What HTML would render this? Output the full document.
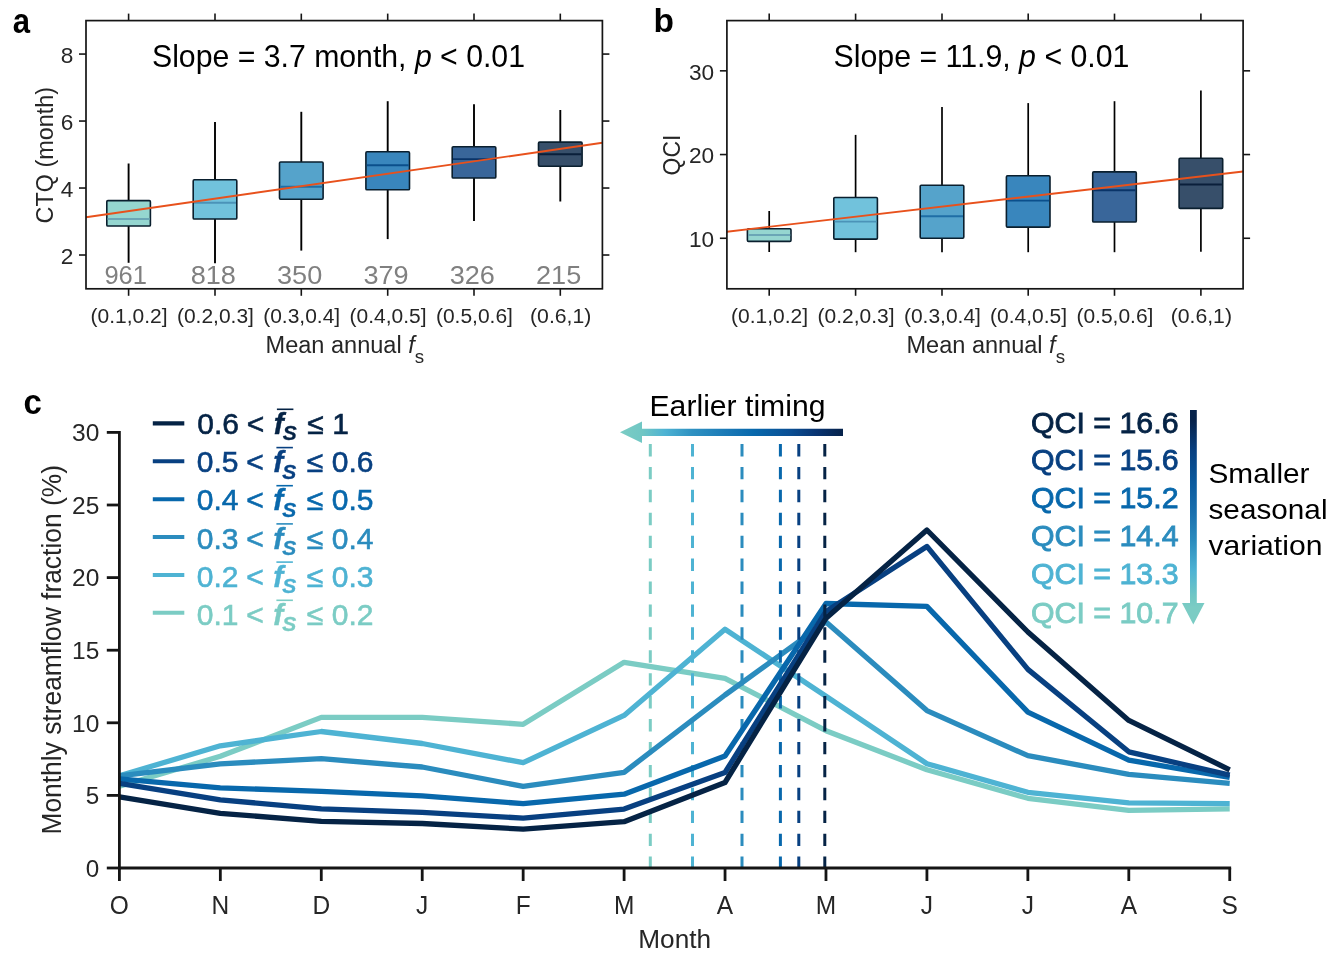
<!DOCTYPE html>
<html><head><meta charset="utf-8"><title>Figure</title>
<style>html,body{margin:0;padding:0;background:#fff}svg{display:block;will-change:transform}text{font-family:'Liberation Sans', Arial, Helvetica, sans-serif}</style>
</head><body>
<svg width="1335" height="954" viewBox="0 0 1335 954">
<rect width="1335" height="954" fill="#fff"/>
<line x1="128.60" y1="163.50" x2="128.60" y2="200.60" stroke="#000" stroke-width="1.9" />
<line x1="128.60" y1="226.00" x2="128.60" y2="262.80" stroke="#000" stroke-width="1.9" />
<rect x="106.8" y="200.6" width="43.6" height="25.4" rx="1.1" fill="#7bccc4" fill-opacity="0.8" stroke="#0a1f2e" stroke-width="1.6"/>
<line x1="107.60" y1="219.00" x2="149.60" y2="219.00" stroke="#6ba6b6" stroke-width="1.9" />
<line x1="215.00" y1="122.00" x2="215.00" y2="179.80" stroke="#000" stroke-width="1.9" />
<line x1="215.00" y1="219.00" x2="215.00" y2="263.30" stroke="#000" stroke-width="1.9" />
<rect x="193.2" y="179.8" width="43.6" height="39.2" rx="1.1" fill="#4eb3d3" fill-opacity="0.8" stroke="#0a1f2e" stroke-width="1.6"/>
<line x1="194.00" y1="202.70" x2="236.00" y2="202.70" stroke="#4b93b8" stroke-width="1.9" />
<line x1="301.30" y1="111.80" x2="301.30" y2="162.00" stroke="#000" stroke-width="1.9" />
<line x1="301.30" y1="199.20" x2="301.30" y2="250.60" stroke="#000" stroke-width="1.9" />
<rect x="279.5" y="162" width="43.6" height="37.2" rx="1.1" fill="#2b8cbe" fill-opacity="0.8" stroke="#0a1f2e" stroke-width="1.6"/>
<line x1="280.30" y1="186.80" x2="322.30" y2="186.80" stroke="#1f6ea6" stroke-width="1.9" />
<line x1="387.70" y1="101.20" x2="387.70" y2="151.80" stroke="#000" stroke-width="1.9" />
<line x1="387.70" y1="189.80" x2="387.70" y2="239.10" stroke="#000" stroke-width="1.9" />
<rect x="365.9" y="151.8" width="43.6" height="38.0" rx="1.1" fill="#0868ac" fill-opacity="0.8" stroke="#0a1f2e" stroke-width="1.6"/>
<line x1="366.70" y1="165.30" x2="408.70" y2="165.30" stroke="#0b4f8c" stroke-width="1.9" />
<line x1="474.00" y1="104.20" x2="474.00" y2="146.70" stroke="#000" stroke-width="1.9" />
<line x1="474.00" y1="178.00" x2="474.00" y2="221.10" stroke="#000" stroke-width="1.9" />
<rect x="452.2" y="146.7" width="43.6" height="31.3" rx="1.1" fill="#084081" fill-opacity="0.8" stroke="#0a1f2e" stroke-width="1.6"/>
<line x1="453.00" y1="159.10" x2="495.00" y2="159.10" stroke="#0a3468" stroke-width="1.9" />
<line x1="560.30" y1="110.00" x2="560.30" y2="142.10" stroke="#000" stroke-width="1.9" />
<line x1="560.30" y1="166.20" x2="560.30" y2="201.50" stroke="#000" stroke-width="1.9" />
<rect x="538.5" y="142.1" width="43.6" height="24.1" rx="1.1" fill="#052345" fill-opacity="0.8" stroke="#0a1f2e" stroke-width="1.6"/>
<line x1="539.30" y1="154.20" x2="581.30" y2="154.20" stroke="#0a1f3a" stroke-width="1.9" />
<line x1="86.00" y1="217.30" x2="602.40" y2="142.80" stroke="#e8511c" stroke-width="1.9" />
<rect x="86.0" y="20.6" width="516.4" height="268.2" fill="none" stroke="#151515" stroke-width="1.7"/>
<line x1="128.60" y1="20.60" x2="128.60" y2="13.60" stroke="#151515" stroke-width="1.6" />
<line x1="128.60" y1="288.80" x2="128.60" y2="295.80" stroke="#151515" stroke-width="1.6" />
<line x1="215.00" y1="20.60" x2="215.00" y2="13.60" stroke="#151515" stroke-width="1.6" />
<line x1="215.00" y1="288.80" x2="215.00" y2="295.80" stroke="#151515" stroke-width="1.6" />
<line x1="301.30" y1="20.60" x2="301.30" y2="13.60" stroke="#151515" stroke-width="1.6" />
<line x1="301.30" y1="288.80" x2="301.30" y2="295.80" stroke="#151515" stroke-width="1.6" />
<line x1="387.70" y1="20.60" x2="387.70" y2="13.60" stroke="#151515" stroke-width="1.6" />
<line x1="387.70" y1="288.80" x2="387.70" y2="295.80" stroke="#151515" stroke-width="1.6" />
<line x1="474.00" y1="20.60" x2="474.00" y2="13.60" stroke="#151515" stroke-width="1.6" />
<line x1="474.00" y1="288.80" x2="474.00" y2="295.80" stroke="#151515" stroke-width="1.6" />
<line x1="560.30" y1="20.60" x2="560.30" y2="13.60" stroke="#151515" stroke-width="1.6" />
<line x1="560.30" y1="288.80" x2="560.30" y2="295.80" stroke="#151515" stroke-width="1.6" />
<line x1="86.00" y1="54.07" x2="79.00" y2="54.07" stroke="#151515" stroke-width="1.6" />
<line x1="602.40" y1="54.07" x2="609.40" y2="54.07" stroke="#151515" stroke-width="1.6" />
<text transform="translate(73.3,62.769999999999996) scale(1,1.12)" font-size="20" fill="#262626" text-anchor="end" textLength="12.6" lengthAdjust="spacingAndGlyphs">8</text>
<line x1="86.00" y1="121.05" x2="79.00" y2="121.05" stroke="#151515" stroke-width="1.6" />
<line x1="602.40" y1="121.05" x2="609.40" y2="121.05" stroke="#151515" stroke-width="1.6" />
<text transform="translate(73.3,129.74999999999997) scale(1,1.12)" font-size="20" fill="#262626" text-anchor="end" textLength="12.6" lengthAdjust="spacingAndGlyphs">6</text>
<line x1="86.00" y1="188.03" x2="79.00" y2="188.03" stroke="#151515" stroke-width="1.6" />
<line x1="602.40" y1="188.03" x2="609.40" y2="188.03" stroke="#151515" stroke-width="1.6" />
<text transform="translate(73.3,196.73) scale(1,1.12)" font-size="20" fill="#262626" text-anchor="end" textLength="12.6" lengthAdjust="spacingAndGlyphs">4</text>
<line x1="86.00" y1="255.01" x2="79.00" y2="255.01" stroke="#151515" stroke-width="1.6" />
<line x1="602.40" y1="255.01" x2="609.40" y2="255.01" stroke="#151515" stroke-width="1.6" />
<text transform="translate(73.3,263.71) scale(1,1.12)" font-size="20" fill="#262626" text-anchor="end" textLength="12.6" lengthAdjust="spacingAndGlyphs">2</text>
<text transform="translate(129.0,322.8) scale(1,1.05)" font-size="19.5" fill="#262626" text-anchor="middle" textLength="77" lengthAdjust="spacingAndGlyphs">(0.1,0.2]</text>
<text transform="translate(125.69999999999999,284.2) scale(1,1.04)" font-size="25.5" fill="#808080" text-anchor="middle" textLength="42.6" lengthAdjust="spacingAndGlyphs">961</text>
<text transform="translate(215.4,322.8) scale(1,1.05)" font-size="19.5" fill="#262626" text-anchor="middle" textLength="77" lengthAdjust="spacingAndGlyphs">(0.2,0.3]</text>
<text transform="translate(213.3,284.2) scale(1,1.04)" font-size="25.5" fill="#808080" text-anchor="middle" textLength="45.2" lengthAdjust="spacingAndGlyphs">818</text>
<text transform="translate(301.7,322.8) scale(1,1.05)" font-size="19.5" fill="#262626" text-anchor="middle" textLength="77" lengthAdjust="spacingAndGlyphs">(0.3,0.4]</text>
<text transform="translate(299.6,284.2) scale(1,1.04)" font-size="25.5" fill="#808080" text-anchor="middle" textLength="45.2" lengthAdjust="spacingAndGlyphs">350</text>
<text transform="translate(388.09999999999997,322.8) scale(1,1.05)" font-size="19.5" fill="#262626" text-anchor="middle" textLength="77" lengthAdjust="spacingAndGlyphs">(0.4,0.5]</text>
<text transform="translate(386.0,284.2) scale(1,1.04)" font-size="25.5" fill="#808080" text-anchor="middle" textLength="45.2" lengthAdjust="spacingAndGlyphs">379</text>
<text transform="translate(474.4,322.8) scale(1,1.05)" font-size="19.5" fill="#262626" text-anchor="middle" textLength="77" lengthAdjust="spacingAndGlyphs">(0.5,0.6]</text>
<text transform="translate(472.3,284.2) scale(1,1.04)" font-size="25.5" fill="#808080" text-anchor="middle" textLength="45.2" lengthAdjust="spacingAndGlyphs">326</text>
<text transform="translate(560.6999999999999,322.8) scale(1,1.05)" font-size="19.5" fill="#262626" text-anchor="middle" textLength="61.3" lengthAdjust="spacingAndGlyphs">(0.6,1)</text>
<text transform="translate(558.5999999999999,284.2) scale(1,1.04)" font-size="25.5" fill="#808080" text-anchor="middle" textLength="45.2" lengthAdjust="spacingAndGlyphs">215</text>
<text transform="translate(265.6,352.6) scale(1,1.07)" font-size="22" fill="#262626" textLength="158.5" lengthAdjust="spacingAndGlyphs">Mean annual <tspan font-style="italic">f</tspan><tspan font-size="17.5" dy="9.5">s</tspan></text>
<text transform="translate(152,66.5) scale(1,1.06)" font-size="29.5" fill="#000" textLength="373" lengthAdjust="spacingAndGlyphs">Slope = 3.7 month, <tspan font-style="italic">p</tspan> &lt; 0.01</text>
<text transform="translate(53.4,155.2) rotate(-90) scale(1,1.04)" font-size="23" fill="#262626" text-anchor="middle" textLength="136.5" lengthAdjust="spacingAndGlyphs">CTQ (month)</text>
<text transform="translate(12.8,32.6) scale(1,1.07)" font-size="33.5" fill="#000" font-weight="bold" textLength="17.3" lengthAdjust="spacingAndGlyphs">a</text>
<line x1="769.20" y1="211.00" x2="769.20" y2="228.80" stroke="#000" stroke-width="1.7" />
<line x1="769.20" y1="241.40" x2="769.20" y2="252.00" stroke="#000" stroke-width="1.7" />
<rect x="747.4" y="228.8" width="43.6" height="12.6" rx="1.1" fill="#7bccc4" fill-opacity="0.8" stroke="#0a1f2e" stroke-width="1.6"/>
<line x1="748.20" y1="235.00" x2="790.20" y2="235.00" stroke="#6ba6b6" stroke-width="1.9" />
<line x1="855.60" y1="134.90" x2="855.60" y2="197.50" stroke="#000" stroke-width="1.7" />
<line x1="855.60" y1="239.10" x2="855.60" y2="252.20" stroke="#000" stroke-width="1.7" />
<rect x="833.8" y="197.5" width="43.6" height="41.6" rx="1.1" fill="#4eb3d3" fill-opacity="0.8" stroke="#0a1f2e" stroke-width="1.6"/>
<line x1="834.60" y1="221.60" x2="876.60" y2="221.60" stroke="#4b93b8" stroke-width="1.9" />
<line x1="942.00" y1="107.00" x2="942.00" y2="185.20" stroke="#000" stroke-width="1.7" />
<line x1="942.00" y1="238.20" x2="942.00" y2="252.20" stroke="#000" stroke-width="1.7" />
<rect x="920.2" y="185.2" width="43.6" height="53.0" rx="1.1" fill="#2b8cbe" fill-opacity="0.8" stroke="#0a1f2e" stroke-width="1.6"/>
<line x1="921.00" y1="216.30" x2="963.00" y2="216.30" stroke="#1f6ea6" stroke-width="1.9" />
<line x1="1028.20" y1="103.10" x2="1028.20" y2="175.80" stroke="#000" stroke-width="1.7" />
<line x1="1028.20" y1="227.10" x2="1028.20" y2="252.20" stroke="#000" stroke-width="1.7" />
<rect x="1006.4" y="175.8" width="43.6" height="51.3" rx="1.1" fill="#0868ac" fill-opacity="0.8" stroke="#0a1f2e" stroke-width="1.6"/>
<line x1="1007.20" y1="200.60" x2="1049.20" y2="200.60" stroke="#0b4f8c" stroke-width="1.9" />
<line x1="1114.50" y1="101.20" x2="1114.50" y2="171.90" stroke="#000" stroke-width="1.7" />
<line x1="1114.50" y1="222.00" x2="1114.50" y2="252.20" stroke="#000" stroke-width="1.7" />
<rect x="1092.7" y="171.9" width="43.6" height="50.1" rx="1.1" fill="#084081" fill-opacity="0.8" stroke="#0a1f2e" stroke-width="1.6"/>
<line x1="1093.50" y1="190.20" x2="1135.50" y2="190.20" stroke="#0a3468" stroke-width="1.9" />
<line x1="1200.90" y1="90.60" x2="1200.90" y2="158.30" stroke="#000" stroke-width="1.7" />
<line x1="1200.90" y1="208.40" x2="1200.90" y2="251.80" stroke="#000" stroke-width="1.7" />
<rect x="1179.1" y="158.3" width="43.6" height="50.1" rx="1.1" fill="#052345" fill-opacity="0.8" stroke="#0a1f2e" stroke-width="1.6"/>
<line x1="1179.90" y1="184.50" x2="1221.90" y2="184.50" stroke="#0a1f3a" stroke-width="1.9" />
<line x1="726.90" y1="231.70" x2="1243.10" y2="171.50" stroke="#e8511c" stroke-width="1.9" />
<rect x="726.9" y="20.6" width="516.2" height="268.2" fill="none" stroke="#151515" stroke-width="1.7"/>
<line x1="769.20" y1="20.60" x2="769.20" y2="13.60" stroke="#151515" stroke-width="1.6" />
<line x1="769.20" y1="288.80" x2="769.20" y2="295.80" stroke="#151515" stroke-width="1.6" />
<line x1="855.60" y1="20.60" x2="855.60" y2="13.60" stroke="#151515" stroke-width="1.6" />
<line x1="855.60" y1="288.80" x2="855.60" y2="295.80" stroke="#151515" stroke-width="1.6" />
<line x1="942.00" y1="20.60" x2="942.00" y2="13.60" stroke="#151515" stroke-width="1.6" />
<line x1="942.00" y1="288.80" x2="942.00" y2="295.80" stroke="#151515" stroke-width="1.6" />
<line x1="1028.20" y1="20.60" x2="1028.20" y2="13.60" stroke="#151515" stroke-width="1.6" />
<line x1="1028.20" y1="288.80" x2="1028.20" y2="295.80" stroke="#151515" stroke-width="1.6" />
<line x1="1114.50" y1="20.60" x2="1114.50" y2="13.60" stroke="#151515" stroke-width="1.6" />
<line x1="1114.50" y1="288.80" x2="1114.50" y2="295.80" stroke="#151515" stroke-width="1.6" />
<line x1="1200.90" y1="20.60" x2="1200.90" y2="13.60" stroke="#151515" stroke-width="1.6" />
<line x1="1200.90" y1="288.80" x2="1200.90" y2="295.80" stroke="#151515" stroke-width="1.6" />
<line x1="726.90" y1="70.83" x2="719.90" y2="70.83" stroke="#151515" stroke-width="1.6" />
<line x1="1243.10" y1="70.83" x2="1250.10" y2="70.83" stroke="#151515" stroke-width="1.6" />
<text transform="translate(714.1999999999999,79.528) scale(1,1.12)" font-size="20" fill="#262626" text-anchor="end" textLength="25.2" lengthAdjust="spacingAndGlyphs">30</text>
<line x1="726.90" y1="154.55" x2="719.90" y2="154.55" stroke="#151515" stroke-width="1.6" />
<line x1="1243.10" y1="154.55" x2="1250.10" y2="154.55" stroke="#151515" stroke-width="1.6" />
<text transform="translate(714.1999999999999,163.248) scale(1,1.12)" font-size="20" fill="#262626" text-anchor="end" textLength="25.2" lengthAdjust="spacingAndGlyphs">20</text>
<line x1="726.90" y1="238.27" x2="719.90" y2="238.27" stroke="#151515" stroke-width="1.6" />
<line x1="1243.10" y1="238.27" x2="1250.10" y2="238.27" stroke="#151515" stroke-width="1.6" />
<text transform="translate(714.1999999999999,246.968) scale(1,1.12)" font-size="20" fill="#262626" text-anchor="end" textLength="25.2" lengthAdjust="spacingAndGlyphs">10</text>
<text transform="translate(769.6,322.8) scale(1,1.05)" font-size="19.5" fill="#262626" text-anchor="middle" textLength="77" lengthAdjust="spacingAndGlyphs">(0.1,0.2]</text>
<text transform="translate(856.0,322.8) scale(1,1.05)" font-size="19.5" fill="#262626" text-anchor="middle" textLength="77" lengthAdjust="spacingAndGlyphs">(0.2,0.3]</text>
<text transform="translate(942.4,322.8) scale(1,1.05)" font-size="19.5" fill="#262626" text-anchor="middle" textLength="77" lengthAdjust="spacingAndGlyphs">(0.3,0.4]</text>
<text transform="translate(1028.6000000000001,322.8) scale(1,1.05)" font-size="19.5" fill="#262626" text-anchor="middle" textLength="77" lengthAdjust="spacingAndGlyphs">(0.4,0.5]</text>
<text transform="translate(1114.9,322.8) scale(1,1.05)" font-size="19.5" fill="#262626" text-anchor="middle" textLength="77" lengthAdjust="spacingAndGlyphs">(0.5,0.6]</text>
<text transform="translate(1201.3000000000002,322.8) scale(1,1.05)" font-size="19.5" fill="#262626" text-anchor="middle" textLength="61.3" lengthAdjust="spacingAndGlyphs">(0.6,1)</text>
<text transform="translate(906.5,352.6) scale(1,1.07)" font-size="22" fill="#262626" textLength="158.5" lengthAdjust="spacingAndGlyphs">Mean annual <tspan font-style="italic">f</tspan><tspan font-size="17.5" dy="9.5">s</tspan></text>
<text transform="translate(833.5,66.5) scale(1,1.06)" font-size="29.5" fill="#000" textLength="296" lengthAdjust="spacingAndGlyphs">Slope = 11.9, <tspan font-style="italic">p</tspan> &lt; 0.01</text>
<text transform="translate(679.8,155) rotate(-90) scale(1,1.04)" font-size="23" fill="#262626" text-anchor="middle">QCI</text>
<text transform="translate(653.5,32.4)" font-size="33.5" fill="#000" font-weight="bold">b</text>
<text transform="translate(23.5,414.1) scale(1,1.04)" font-size="33" fill="#000" font-weight="bold">c</text>
<polyline points="119.4,786.3 220.3,756.3 321.3,717.4 422.2,717.4 523.2,724.3 624.1,662.3 725.0,678.4 826.0,730.7 926.9,769.7 1027.9,798.3 1128.8,810.3 1229.7,808.8" fill="none" stroke="#7bccc4" stroke-width="5.3" stroke-linejoin="round"/>
<line x1="650.30" y1="444.00" x2="650.30" y2="868.00" stroke="#7bccc4" stroke-width="3.0" stroke-dasharray="12.4 10.52"/>
<polyline points="119.4,775.8 220.3,745.8 321.3,731.5 422.2,743.5 523.2,762.7 624.1,715.4 725.0,629.2 826.0,696.3 926.9,763.7 1027.9,792.3 1128.8,802.8 1229.7,803.7" fill="none" stroke="#4eb3d3" stroke-width="5.3" stroke-linejoin="round"/>
<line x1="692.50" y1="444.00" x2="692.50" y2="868.00" stroke="#4eb3d3" stroke-width="3.0" stroke-dasharray="12.4 10.52"/>
<polyline points="119.4,775.8 220.3,763.8 321.3,758.7 422.2,767.0 523.2,786.4 624.1,772.3 725.0,695.0 826.0,621.9 926.9,710.6 1027.9,755.7 1128.8,774.3 1229.7,783.3" fill="none" stroke="#2b8cbe" stroke-width="5.3" stroke-linejoin="round"/>
<line x1="742.00" y1="444.00" x2="742.00" y2="868.00" stroke="#2b8cbe" stroke-width="3.0" stroke-dasharray="12.4 10.52"/>
<polyline points="119.4,778.8 220.3,787.8 321.3,791.4 422.2,795.8 523.2,803.7 624.1,794.2 725.0,756.0 826.0,603.5 926.9,606.4 1027.9,712.2 1128.8,760.2 1229.7,777.3" fill="none" stroke="#0868ac" stroke-width="5.3" stroke-linejoin="round"/>
<line x1="780.40" y1="444.00" x2="780.40" y2="868.00" stroke="#0868ac" stroke-width="3.0" stroke-dasharray="12.4 10.52"/>
<polyline points="119.4,783.3 220.3,799.8 321.3,808.8 422.2,812.3 523.2,818.1 624.1,809.1 725.0,772.5 826.0,611.4 926.9,546.4 1027.9,669.4 1128.8,751.8 1229.7,775.2" fill="none" stroke="#084081" stroke-width="5.3" stroke-linejoin="round"/>
<line x1="798.80" y1="444.00" x2="798.80" y2="868.00" stroke="#084081" stroke-width="3.0" stroke-dasharray="12.4 10.52"/>
<polyline points="119.4,796.8 220.3,813.3 321.3,821.3 422.2,823.5 523.2,829.2 624.1,821.7 725.0,782.5 826.0,618.2 926.9,530.0 1027.9,632.0 1128.8,720.4 1229.7,769.8" fill="none" stroke="#052345" stroke-width="5.3" stroke-linejoin="round"/>
<line x1="824.80" y1="444.00" x2="824.80" y2="868.00" stroke="#052345" stroke-width="3.0" stroke-dasharray="12.4 10.52"/>
<line x1="119.40" y1="431.00" x2="119.40" y2="869.40" stroke="#151515" stroke-width="2.8" />
<line x1="118.00" y1="868.00" x2="1231.14" y2="868.00" stroke="#151515" stroke-width="2.8" />
<line x1="119.40" y1="868.00" x2="106.80" y2="868.00" stroke="#151515" stroke-width="2.8" />
<text transform="translate(99.3,876.7) scale(1,1.01)" font-size="23.5" fill="#262626" text-anchor="end" textLength="13.5" lengthAdjust="spacingAndGlyphs">0</text>
<line x1="119.40" y1="795.40" x2="106.80" y2="795.40" stroke="#151515" stroke-width="2.8" />
<text transform="translate(99.3,804.1) scale(1,1.01)" font-size="23.5" fill="#262626" text-anchor="end" textLength="13.5" lengthAdjust="spacingAndGlyphs">5</text>
<line x1="119.40" y1="722.80" x2="106.80" y2="722.80" stroke="#151515" stroke-width="2.8" />
<text transform="translate(99.3,731.5) scale(1,1.01)" font-size="23.5" fill="#262626" text-anchor="end" textLength="27.3" lengthAdjust="spacingAndGlyphs">10</text>
<line x1="119.40" y1="650.20" x2="106.80" y2="650.20" stroke="#151515" stroke-width="2.8" />
<text transform="translate(99.3,658.9000000000001) scale(1,1.01)" font-size="23.5" fill="#262626" text-anchor="end" textLength="27.3" lengthAdjust="spacingAndGlyphs">15</text>
<line x1="119.40" y1="577.60" x2="106.80" y2="577.60" stroke="#151515" stroke-width="2.8" />
<text transform="translate(99.3,586.3000000000001) scale(1,1.01)" font-size="23.5" fill="#262626" text-anchor="end" textLength="27.3" lengthAdjust="spacingAndGlyphs">20</text>
<line x1="119.40" y1="505.00" x2="106.80" y2="505.00" stroke="#151515" stroke-width="2.8" />
<text transform="translate(99.3,513.7) scale(1,1.01)" font-size="23.5" fill="#262626" text-anchor="end" textLength="27.3" lengthAdjust="spacingAndGlyphs">25</text>
<line x1="119.40" y1="432.40" x2="106.80" y2="432.40" stroke="#151515" stroke-width="2.8" />
<text transform="translate(99.3,441.1) scale(1,1.01)" font-size="23.5" fill="#262626" text-anchor="end" textLength="27.3" lengthAdjust="spacingAndGlyphs">30</text>
<line x1="119.40" y1="868.00" x2="119.40" y2="881.00" stroke="#151515" stroke-width="2.8" />
<text transform="translate(119.4,914.2) scale(1,1.02)" font-size="24.5" fill="#262626" text-anchor="middle">O</text>
<line x1="220.34" y1="868.00" x2="220.34" y2="881.00" stroke="#151515" stroke-width="2.8" />
<text transform="translate(220.34,914.2) scale(1,1.02)" font-size="24.5" fill="#262626" text-anchor="middle">N</text>
<line x1="321.28" y1="868.00" x2="321.28" y2="881.00" stroke="#151515" stroke-width="2.8" />
<text transform="translate(321.28,914.2) scale(1,1.02)" font-size="24.5" fill="#262626" text-anchor="middle">D</text>
<line x1="422.22" y1="868.00" x2="422.22" y2="881.00" stroke="#151515" stroke-width="2.8" />
<text transform="translate(422.22,914.2) scale(1,1.02)" font-size="24.5" fill="#262626" text-anchor="middle">J</text>
<line x1="523.16" y1="868.00" x2="523.16" y2="881.00" stroke="#151515" stroke-width="2.8" />
<text transform="translate(523.16,914.2) scale(1,1.02)" font-size="24.5" fill="#262626" text-anchor="middle">F</text>
<line x1="624.10" y1="868.00" x2="624.10" y2="881.00" stroke="#151515" stroke-width="2.8" />
<text transform="translate(624.1,914.2) scale(1,1.02)" font-size="24.5" fill="#262626" text-anchor="middle">M</text>
<line x1="725.04" y1="868.00" x2="725.04" y2="881.00" stroke="#151515" stroke-width="2.8" />
<text transform="translate(725.04,914.2) scale(1,1.02)" font-size="24.5" fill="#262626" text-anchor="middle">A</text>
<line x1="825.98" y1="868.00" x2="825.98" y2="881.00" stroke="#151515" stroke-width="2.8" />
<text transform="translate(825.9799999999999,914.2) scale(1,1.02)" font-size="24.5" fill="#262626" text-anchor="middle">M</text>
<line x1="926.92" y1="868.00" x2="926.92" y2="881.00" stroke="#151515" stroke-width="2.8" />
<text transform="translate(926.92,914.2) scale(1,1.02)" font-size="24.5" fill="#262626" text-anchor="middle">J</text>
<line x1="1027.86" y1="868.00" x2="1027.86" y2="881.00" stroke="#151515" stroke-width="2.8" />
<text transform="translate(1027.8600000000001,914.2) scale(1,1.02)" font-size="24.5" fill="#262626" text-anchor="middle">J</text>
<line x1="1128.80" y1="868.00" x2="1128.80" y2="881.00" stroke="#151515" stroke-width="2.8" />
<text transform="translate(1128.8,914.2) scale(1,1.02)" font-size="24.5" fill="#262626" text-anchor="middle">A</text>
<line x1="1229.74" y1="868.00" x2="1229.74" y2="881.00" stroke="#151515" stroke-width="2.8" />
<text transform="translate(1229.74,914.2) scale(1,1.02)" font-size="24.5" fill="#262626" text-anchor="middle">S</text>
<text transform="translate(674.7,948) scale(1,1.02)" font-size="26" fill="#262626" text-anchor="middle" textLength="72.8" lengthAdjust="spacingAndGlyphs">Month</text>
<text transform="translate(60.5,649.8) rotate(-90) scale(1,1.09)" font-size="26" fill="#262626" text-anchor="middle" textLength="369.5" lengthAdjust="spacingAndGlyphs">Monthly streamflow fraction (%)</text>
<line x1="152.80" y1="423.40" x2="184.30" y2="423.40" stroke="#052345" stroke-width="4.1" />
<text transform="translate(197.2,434.0) scale(1,0.99)" font-size="30" fill="#052345" stroke="#052345" stroke-width="0.6">0.6<tspan dx="-0.6"> &lt; </tspan><tspan font-style="italic" font-weight="bold" stroke-width="0.4" dx="1.3">f</tspan><tspan font-style="italic" font-weight="bold" font-size="21" dy="6.4" dx="-1.1" stroke-width="0.3">S</tspan><tspan dy="-6.4" dx="2.2"> ≤</tspan><tspan dx="0.3"> 1</tspan></text>
<line x1="276.90" y1="409.30" x2="293.40" y2="409.30" stroke="#052345" stroke-width="1.6" />
<line x1="152.80" y1="461.20" x2="184.30" y2="461.20" stroke="#084081" stroke-width="4.1" />
<text transform="translate(196.7,472.3) scale(1,0.99)" font-size="30" fill="#084081" stroke="#084081" stroke-width="0.6">0.5<tspan dx="-0.6"> &lt; </tspan><tspan font-style="italic" font-weight="bold" stroke-width="0.4" dx="1.3">f</tspan><tspan font-style="italic" font-weight="bold" font-size="21" dy="6.4" dx="-1.1" stroke-width="0.3">S</tspan><tspan dy="-6.4" dx="2.2"> ≤</tspan><tspan dx="0.3"> 0.6</tspan></text>
<line x1="276.40" y1="447.60" x2="292.90" y2="447.60" stroke="#084081" stroke-width="1.6" />
<line x1="152.80" y1="499.20" x2="184.30" y2="499.20" stroke="#0868ac" stroke-width="4.1" />
<text transform="translate(196.7,510.4) scale(1,0.99)" font-size="30" fill="#0868ac" stroke="#0868ac" stroke-width="0.6">0.4<tspan dx="-0.6"> &lt; </tspan><tspan font-style="italic" font-weight="bold" stroke-width="0.4" dx="1.3">f</tspan><tspan font-style="italic" font-weight="bold" font-size="21" dy="6.4" dx="-1.1" stroke-width="0.3">S</tspan><tspan dy="-6.4" dx="2.2"> ≤</tspan><tspan dx="0.3"> 0.5</tspan></text>
<line x1="276.40" y1="485.70" x2="292.90" y2="485.70" stroke="#0868ac" stroke-width="1.6" />
<line x1="152.80" y1="537.00" x2="184.30" y2="537.00" stroke="#2b8cbe" stroke-width="4.1" />
<text transform="translate(196.7,548.6) scale(1,0.99)" font-size="30" fill="#2b8cbe" stroke="#2b8cbe" stroke-width="0.6">0.3<tspan dx="-0.6"> &lt; </tspan><tspan font-style="italic" font-weight="bold" stroke-width="0.4" dx="1.3">f</tspan><tspan font-style="italic" font-weight="bold" font-size="21" dy="6.4" dx="-1.1" stroke-width="0.3">S</tspan><tspan dy="-6.4" dx="2.2"> ≤</tspan><tspan dx="0.3"> 0.4</tspan></text>
<line x1="276.40" y1="523.90" x2="292.90" y2="523.90" stroke="#2b8cbe" stroke-width="1.6" />
<line x1="152.80" y1="575.00" x2="184.30" y2="575.00" stroke="#4eb3d3" stroke-width="4.1" />
<text transform="translate(196.7,586.8000000000001) scale(1,0.99)" font-size="30" fill="#4eb3d3" stroke="#4eb3d3" stroke-width="0.6">0.2<tspan dx="-0.6"> &lt; </tspan><tspan font-style="italic" font-weight="bold" stroke-width="0.4" dx="1.3">f</tspan><tspan font-style="italic" font-weight="bold" font-size="21" dy="6.4" dx="-1.1" stroke-width="0.3">S</tspan><tspan dy="-6.4" dx="2.2"> ≤</tspan><tspan dx="0.3"> 0.3</tspan></text>
<line x1="276.40" y1="562.10" x2="292.90" y2="562.10" stroke="#4eb3d3" stroke-width="1.6" />
<line x1="152.80" y1="612.80" x2="184.30" y2="612.80" stroke="#7bccc4" stroke-width="4.1" />
<text transform="translate(196.7,625.0) scale(1,0.99)" font-size="30" fill="#7bccc4" stroke="#7bccc4" stroke-width="0.6">0.1<tspan dx="-0.6"> &lt; </tspan><tspan font-style="italic" font-weight="bold" stroke-width="0.4" dx="1.3">f</tspan><tspan font-style="italic" font-weight="bold" font-size="21" dy="6.4" dx="-1.1" stroke-width="0.3">S</tspan><tspan dy="-6.4" dx="2.2"> ≤</tspan><tspan dx="0.3"> 0.2</tspan></text>
<line x1="276.40" y1="600.30" x2="292.90" y2="600.30" stroke="#7bccc4" stroke-width="1.6" />
<defs><linearGradient id="gh" x1="0" x2="1" y1="0" y2="0"><stop offset="0" stop-color="#7bccc4"/><stop offset="0.1" stop-color="#70c7c4"/><stop offset="0.2" stop-color="#4eb3d3"/><stop offset="0.32" stop-color="#2f92c2"/><stop offset="0.48" stop-color="#1a79b6"/><stop offset="0.6" stop-color="#0868ac"/><stop offset="0.76" stop-color="#0a4f94"/><stop offset="0.88" stop-color="#083472"/><stop offset="1" stop-color="#06224a"/></linearGradient><linearGradient id="gv" x1="0" x2="0" y1="0" y2="1"><stop offset="0" stop-color="#06224a"/><stop offset="0.05" stop-color="#06224a"/><stop offset="0.19" stop-color="#084081"/><stop offset="0.34" stop-color="#0a5a9e"/><stop offset="0.48" stop-color="#1a70ae"/><stop offset="0.61" stop-color="#2b8cbe"/><stop offset="0.75" stop-color="#4eb3d3"/><stop offset="0.87" stop-color="#70c7c4"/><stop offset="0.92" stop-color="#7bccc4"/><stop offset="1" stop-color="#7bccc4"/></linearGradient></defs>
<path d="M620,432.3 L642,421.5 L642,428.8 L843,428.8 L843,435.9 L642,435.9 L642,443 Z" fill="url(#gh)"/>
<text transform="translate(649.5,416.3) scale(1,1.07)" font-size="27.5" fill="#000" textLength="176" lengthAdjust="spacingAndGlyphs">Earlier timing</text>
<path d="M1190,410 L1196.8,410 L1196.8,603 L1204.5,603 L1193.3,624.5 L1182,603 L1190,603 Z" fill="url(#gv)"/>
<text transform="translate(1031,432.6) scale(1,1.04)" font-size="28.5" fill="#052345" textLength="147.5" lengthAdjust="spacingAndGlyphs" stroke="#052345" stroke-width="0.8">QCI = 16.6</text>
<text transform="translate(1031,469.9) scale(1,1.04)" font-size="28.5" fill="#084081" textLength="147.5" lengthAdjust="spacingAndGlyphs" stroke="#084081" stroke-width="0.8">QCI = 15.6</text>
<text transform="translate(1031,508.1) scale(1,1.04)" font-size="28.5" fill="#0868ac" textLength="147.5" lengthAdjust="spacingAndGlyphs" stroke="#0868ac" stroke-width="0.8">QCI = 15.2</text>
<text transform="translate(1031,546.3) scale(1,1.04)" font-size="28.5" fill="#2b8cbe" textLength="147.5" lengthAdjust="spacingAndGlyphs" stroke="#2b8cbe" stroke-width="0.8">QCI = 14.4</text>
<text transform="translate(1031,584.4) scale(1,1.04)" font-size="28.5" fill="#4eb3d3" textLength="147.5" lengthAdjust="spacingAndGlyphs" stroke="#4eb3d3" stroke-width="0.8">QCI = 13.3</text>
<text transform="translate(1031,622.6) scale(1,1.04)" font-size="28.5" fill="#7bccc4" textLength="147.5" lengthAdjust="spacingAndGlyphs" stroke="#7bccc4" stroke-width="0.8">QCI = 10.7</text>
<text transform="translate(1208.5,482.5) scale(1,1.07)" font-size="26.5" fill="#000" textLength="101" lengthAdjust="spacingAndGlyphs">Smaller</text>
<text transform="translate(1208.5,519.3) scale(1,1.07)" font-size="26.5" fill="#000" textLength="119" lengthAdjust="spacingAndGlyphs">seasonal</text>
<text transform="translate(1208.5,555.2) scale(1,1.07)" font-size="26.5" fill="#000" textLength="114" lengthAdjust="spacingAndGlyphs">variation</text>
</svg>
</body></html>
